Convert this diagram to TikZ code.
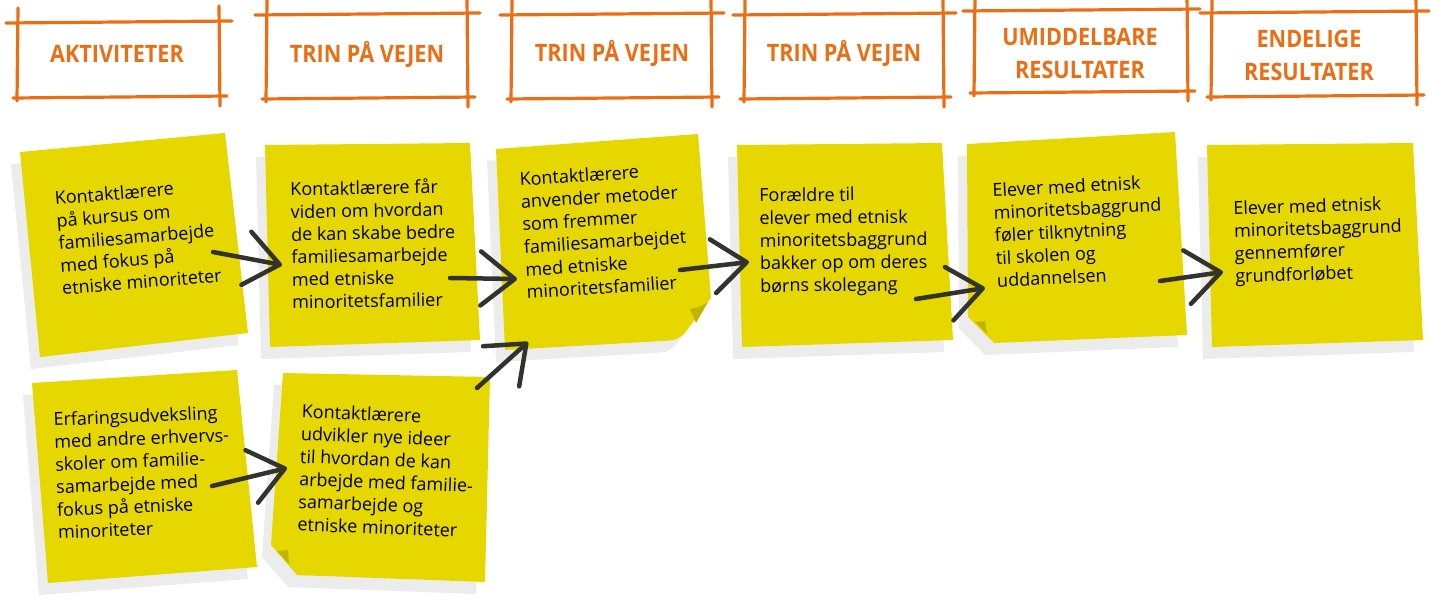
\documentclass[tikz,border=0pt]{standalone}
\usepackage{fontspec}
\setmainfont{Open Sans}
\usepackage{graphicx}
\usetikzlibrary{arrows.meta}
\definecolor{stickyyellow}{RGB}{230,215,0}
\definecolor{stickyfold}{RGB}{196,178,0}
\definecolor{hdorange}{RGB}{236,110,20}
\definecolor{arrowgrey}{RGB}{51,51,46}
\definecolor{shadowgrey}{RGB}{236,236,236}
\newcommand\notefont{\fontsize{18}{22.6}\selectfont}
\newcommand\hdfont{\fontsize{24}{33}\selectfont\bfseries}
\newcommand\hdtxt[1]{\scalebox{0.9}[1]{#1}}
\tikzset{
  note/.style={fill=stickyyellow},
  noteshadow/.style={fill=shadowgrey, shift={(-9,12)}},
  fold/.style={fill=stickyfold},
  hdline/.style={draw=hdorange, line width=3.2pt, line cap=round},
  hdtext/.style={text=hdorange, font=\hdfont, align=center, inner sep=0pt},
  notetext/.style={font=\notefont, align=left, anchor=north west, inner sep=0pt},
  flow/.style={draw=arrowgrey, line width=4.5pt, line cap=round,
    -{Straight Barb[length=34pt,width=54pt,round]}}
}

\begin{document}
\begin{tikzpicture}[x=1pt,y=-1pt]
\useasboundingbox (0,0) rectangle (1437,595);
% headings
\foreach \l/\r/\t/\b in {18/219/22/98, 267/467/14/99, 512/711/14/99, 745/943/14/99, 975/1187/10/93, 1212/1416/12/97} {
\draw[hdline] (\l-12,\t+1) -- (\r+13,\t-1);
\draw[hdline] (\l-5,\b) -- (\r+8,\b-2);
\draw[hdline] (\l,\t-14) -- (\l-1,\b+3);
\draw[hdline] (\r,\t-16) -- (\r+1,\b+8);
}
\node[hdtext] (h1) at (117,54) {\hdtxt{AKTIVITETER}};
\node[hdtext] (h2) at (367,54) {\hdtxt{TRIN PÅ VEJEN}};
\node[hdtext] (h3) at (612,53) {\hdtxt{TRIN PÅ VEJEN}};
\node[hdtext] (h4) at (844,53) {\hdtxt{TRIN PÅ VEJEN}};
\node[hdtext] (h5) at (1080,54) {\hdtxt{UMIDDELBARE}\\\hdtxt{RESULTATER}};
\node[hdtext] (h6) at (1309,55) {\hdtxt{ENDELIGE}\\\hdtxt{RESULTATER}};

% flat notes
\foreach \ax/\ay/\bx/\by/\cx/\cy/\dx/\dy in {20/152/225/133/248/333/40/357, 265/145/470/143/480/340/270/347, 737/145/942/143/953/340/742/347, 1207/145/1413/143/1423/340/1212/347, 32/383/237/370/257/567/48/583} {
\fill[noteshadow] (\ax,\ay) -- (\bx,\by) -- (\cx,\cy) -- (\dx,\dy) -- cycle;
\fill[note] (\ax,\ay) -- (\bx,\by) -- (\cx,\cy) -- (\dx,\dy) -- cycle;
}
% curled notes
\fill[noteshadow] (496,149) -- (698,134) -- (711,298) -- (684,334) .. controls (676,340) .. (662,341) -- (505,350) -- cycle;
\fill[note] (496,149) -- (698,134) -- (711,298) -- (684,334) .. controls (676,340) .. (662,341) -- (505,350) -- cycle;
\fill[fold] (708,302) .. controls (700,307) .. (690,309) -- (696,323) -- cycle;
\fill[noteshadow] (967,144) -- (1175,132) -- (1187,335) -- (994,343) -- (968,317) -- cycle;
\fill[note] (967,144) -- (1175,132) -- (1187,335) -- (994,343) -- (968,317) -- cycle;
\fill[fold] (975,322) -- (985,321) -- (987,334) -- cycle;
\fill[noteshadow] (283,373) -- (490,377) -- (485,582) -- (297,575) -- (271,545) -- cycle;
\fill[note] (283,373) -- (490,377) -- (485,582) -- (297,575) -- (271,545) -- cycle;
\fill[fold] (277,551) -- (288,550) -- (289,564) -- cycle;

\node[notetext, rotate=4.7] (t1) at (54,191) {Kontaktlærere\\på kursus om\\familiesamarbejde\\med fokus på\\etniske minoriteter};
\node[notetext, rotate=1] (t2) at (290,181) {Kontaktlærere får\\viden om hvordan\\de kan skabe bedre\\familiesamarbejde\\med etniske\\minoritetsfamilier};
\node[notetext, rotate=3.6] (t3) at (519,172) {Kontaktlærere\\anvender metoder\\som fremmer\\familiesamarbejdet\\med etniske\\minoritetsfamilier};
\node[notetext, rotate=0.6] (t4) at (759,188) {Forældre til\\elever med etnisk\\minoritetsbaggrund\\bakker op om deres\\børns skolegang};
\node[notetext, rotate=2.9] (t5) at (992,183) {Elever med etnisk\\minoritetsbaggrund\\føler tilknytning\\til skolen og\\uddannelsen};
\node[notetext, rotate=1.7] (t6) at (1233,201) {Elever med etnisk\\minoritetsbaggrund\\gennemfører\\grundforløbet};
\node[notetext, rotate=2.3] (t7) at (53,412) {Erfaringsudveksling\\med andre erhvervs-\\skoler om familie-\\samarbejde med\\fokus på etniske\\minoriteter};
\node[notetext, rotate=-2.2] (t8) at (302,404) {Kontaktlærere\\udvikler nye ideer\\til hvordan de kan\\arbejde med familie-\\samarbejde og\\etniske minoriteter};

% arrows
\coordinate (k1a) at (213,252); \coordinate (k1b) at (282,265);
\coordinate (k2a) at (450,278); \coordinate (k2b) at (517,279);
\coordinate (k3a) at (477,388); \coordinate (k3b) at (528,342);
\coordinate (k4a) at (680,270); \coordinate (k4b) at (749,262);
\coordinate (k5a) at (916,299); \coordinate (k5b) at (985,288);
\coordinate (k6a) at (1160,281); \coordinate (k6b) at (1223,272);
\coordinate (k7a) at (212,486); \coordinate (k7b) at (287,468);
\foreach \k in {1,...,7} {
\draw[flow] (k\k a) -- (k\k b);
}
\end{tikzpicture}
\end{document}
